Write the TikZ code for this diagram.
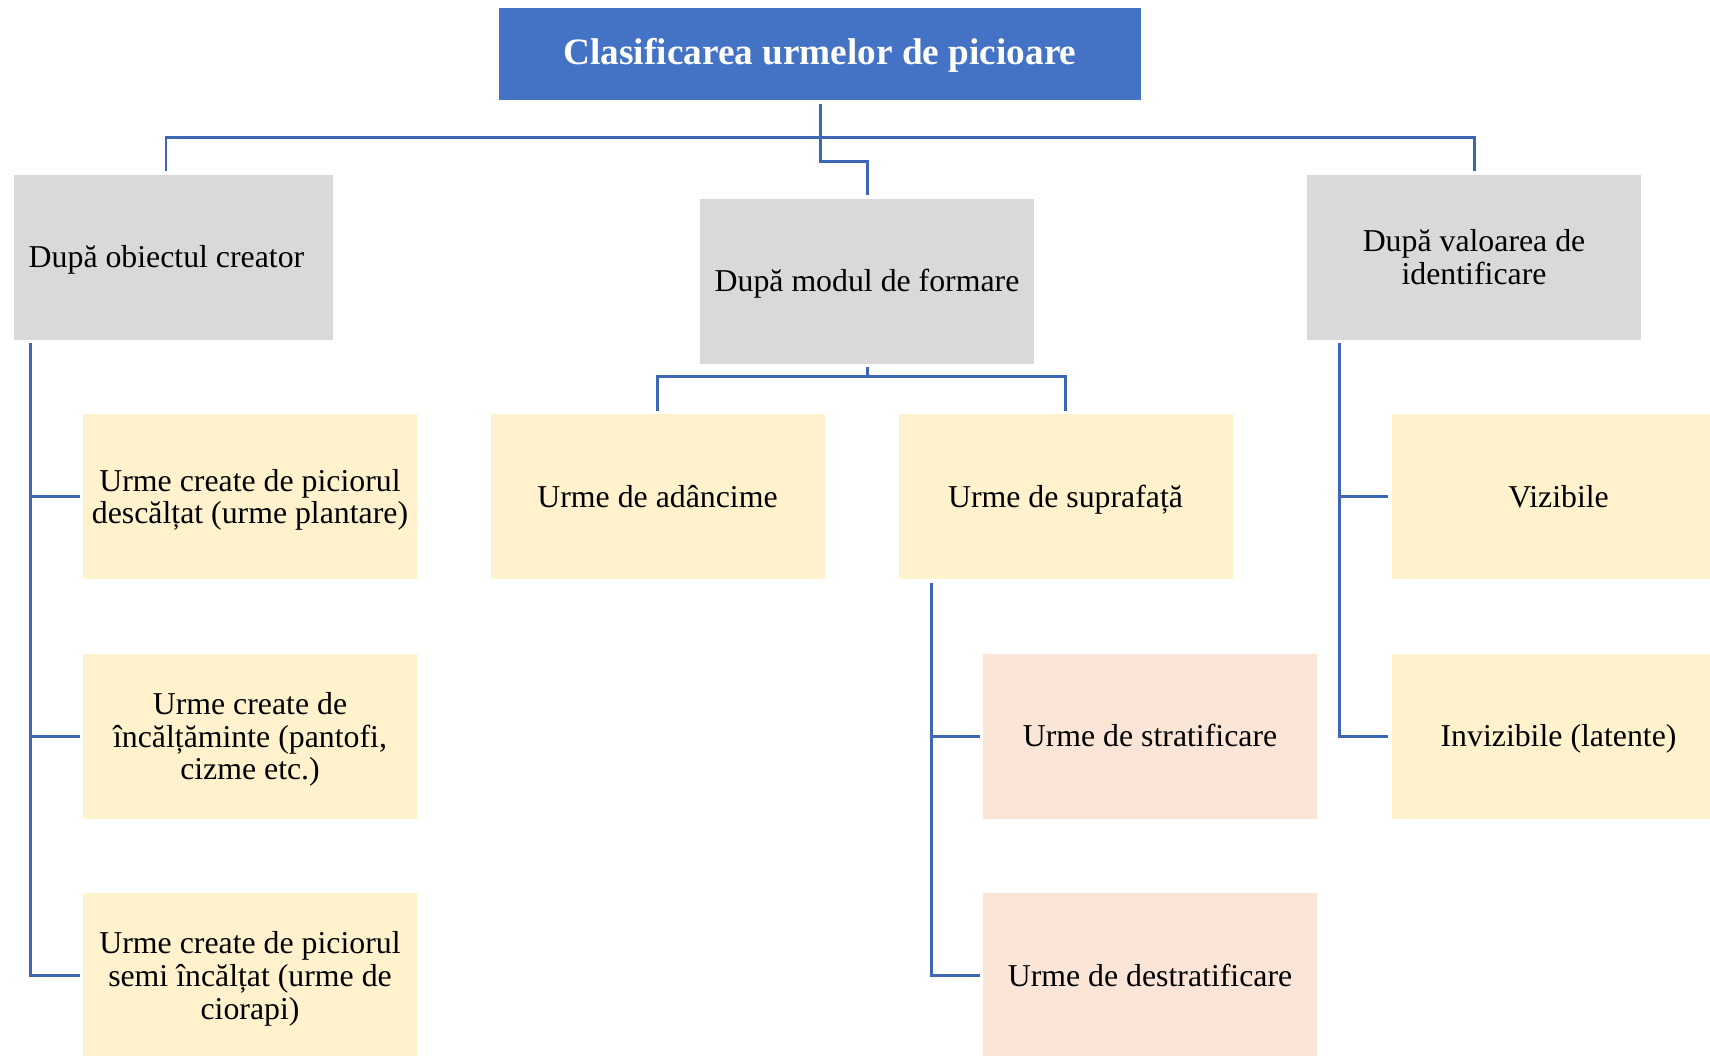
\documentclass[tikz,border=0pt]{standalone}
\usepackage{fontspec}
\setmainfont{Liberation Serif}
\usepackage{tikz}
\usetikzlibrary{positioning, calc}
\definecolor{titleblue}{HTML}{4472C4}
\definecolor{linkblue}{HTML}{3D66B4}
\definecolor{groupgray}{HTML}{D9D9D9}
\definecolor{leafyellow}{HTML}{FFF2CC}
\definecolor{subpink}{HTML}{FBE5D6}
\newcommand{\topstrut}{\rule{0pt}{8.2pt}}
\tikzset{
    head/.style={
        rectangle, fill=titleblue, text=white,
        minimum width=6.42cm, minimum height=0.92cm,
        text height=8pt, text depth=1.8pt,
        align=center, inner sep=0pt, outer sep=0.035cm,
        font=\fontsize{10.6}{12}\selectfont\bfseries,
    },
    group/.style={
        rectangle, fill=groupgray,
        minimum width=3.34cm, minimum height=1.65cm,
        align=center, inner sep=0pt, outer sep=0.035cm,
    },
    leaf/.style={group, fill=leafyellow},
    sub/.style={group, fill=subpink},
    oneline/.style={text height=7.8pt, text depth=1.7pt},
    link/.style={draw=linkblue, line width=0.85pt},
}

\begin{document}
\begin{tikzpicture}[node distance=0.675cm, font=\fontsize{9.05}{9.3}\selectfont]
    \clip (0,0) rectangle (17.1,-10.55);

    \node[head] (title) at (8.20,-0.54) {Clasificarea urmelor de picioare};

    \node[group, oneline, minimum width=3.19cm] (obj) at (1.735,-2.57) {\hspace*{-0.14cm}După obiectul creator};
    \node[group, oneline] (mod) at (8.67,-2.81) {După modul de formare};
    \node[group] (val) at (14.74,-2.57) {După valoarea de\\identificare};

    \node[leaf] (obj1) at (2.50,-4.965)
        {\topstrut Urme create de piciorul\\descălțat (urme plantare)};
    \node[leaf, below=of obj1] (obj2)
        {\topstrut Urme create de\\încălțăminte (pantofi,\\cizme etc.)};
    \node[leaf, below=of obj2] (obj3)
        {\topstrut Urme create de piciorul\\semi încălțat (urme de\\ciorapi)};

    \node[leaf, oneline] (mod1) at (6.575,-4.965) {Urme de adâncime};
    \node[leaf, oneline] (mod2) at (10.655,-4.965) {Urme de suprafață};
    \node[sub, oneline, below=of mod2, xshift=0.845cm] (sup1) {Urme de stratificare};
    \node[sub, oneline, below=of sup1] (sup2) {Urme de destratificare};

    \node[leaf, oneline] (val1) at (15.585,-4.965) {Vizibile};
    \node[leaf, oneline, below=of val1] (val2) {Invizibile (latente)};

    % connectors
    \coordinate (bus) at (8.20,-1.37);
    \coordinate (jog) at (8.20,-1.61);
    \coordinate (busmod) at (8.67,-3.76);
    \coordinate (railobj) at ([xshift=0.20cm]obj.south west);
    \coordinate (railsup) at ([xshift=0.365cm]mod2.south west);
    \coordinate (railval) at ([xshift=0.36cm]val.south west);

    \draw[link] (title.south) -- (jog) -| (mod.north);
    \draw[link] ([xshift=-0.075cm]obj.north) |- (bus) -| (val.north);

    \draw[link] (mod.south) -- (busmod);
    \draw[link] (mod1.north) |- (busmod) -| (mod2.north);

    \draw[link] (railobj) |- (obj3.west);
    \draw[link] (railobj |- obj1.west) -- (obj1.west);
    \draw[link] (railobj |- obj2.west) -- (obj2.west);

    \draw[link] (railsup) |- (sup2.west);
    \draw[link] (railsup |- sup1.west) -- (sup1.west);

    \draw[link] (railval) |- (val2.west);
    \draw[link] (railval |- val1.west) -- (val1.west);
\end{tikzpicture}
\end{document}
